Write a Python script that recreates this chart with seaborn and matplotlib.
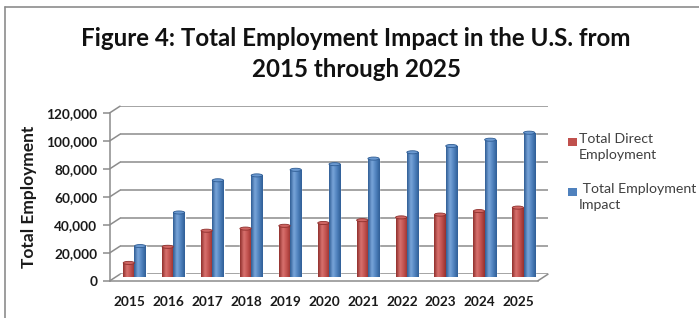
"""Figure 4 - Total Employment Impact in the U.S. (pseudo 3D column chart)"""
import numpy as np
import pandas as pd
import matplotlib
matplotlib.use('Agg')
import matplotlib.pyplot as plt
from matplotlib.lines import Line2D
from matplotlib.patches import Ellipse, Rectangle
from matplotlib.colors import LinearSegmentedColormap
import seaborn as sns

# Data
years = ['2015', '2016', '2017', '2018', '2019', '2020', '2021', '2022', '2023', '2024', '2025']
direct = [11500, 23000, 34500, 36000, 38000, 40000, 42000, 44000, 46000, 48500, 51000]
impact = [23500, 47500, 70500, 74000, 78000, 82000, 86000, 90500, 95000, 99500, 104500]
series_names = ['Total Direct\nEmployment', ' Total Employment\nImpact']
y_ticks = [0, 20000, 40000, 60000, 80000, 100000, 120000]

RED = '#C0504D'
BLUE = '#4F81BD'
GRID = '#8C8C8C'

df = pd.DataFrame({
    'Year': years * 2,
    'Employment': direct + impact,
    'Series': [series_names[0]] * len(years) + [series_names[1]] * len(years),
})

sns.set_style('white')
plt.rcParams['font.family'] = ['Lato', 'DejaVu Sans']

W, H = 699, 318
fig = plt.figure(figsize=(W / 100, H / 100), dpi=100)

# front axis box (pixels)
L, R, B, T = 110, 538, 280.7, 112.7
DX, DY = 10, 6.5  # depth offset of the back wall


def add_ax(dx, dy):
    return fig.add_axes([(L + dx) / W, (H - B + dy) / H, (R - L) / W, (B - T) / H])


ax_back = add_ax(DX, DY)
ax_bar = add_ax(DX / 2, DY / 2)
ax = add_ax(0, 0)

for a in (ax_back, ax_bar, ax):
    a.set_facecolor('none')
    a.set_xlim(-0.5, len(years) - 0.5)
    a.set_ylim(0, 120000)
    for s in a.spines.values():
        s.set_visible(False)

# back wall gridlines
for v in y_ticks:
    ax_back.axhline(v, color=GRID, lw=1.1)
ax_back.set_xticks([])
ax_back.set_yticks([])

# bars
sns.barplot(data=df, x='Year', y='Employment', hue='Series', palette=[RED, BLUE],
            saturation=1, width=0.58, legend=False, ax=ax_bar)
ax_bar.set_xticks([])
ax_bar.set_yticks([])
ax_bar.set_xlabel('')
ax_bar.set_ylabel('')

# cylinder shading
shades = {
    RED: LinearSegmentedColormap.from_list('r', ['#8E2F2C', '#D9726F', '#C0504D', '#96302D']),
    BLUE: LinearSegmentedColormap.from_list('b', ['#2E5C93', '#7AA6DA', '#4F81BD', '#2F5E96']),
}
grad = np.linspace(0, 1, 64).reshape(1, -1)
ell_h = 2200
for patch in list(ax_bar.patches):
    x0, w, h = patch.get_x(), patch.get_width(), patch.get_height()
    if h <= 0:
        continue
    fc = matplotlib.colors.to_hex(patch.get_facecolor())
    cmap = shades[RED] if fc.lower() == RED.lower() else shades[BLUE]
    top = h - ell_h / 2
    patch.set_height(top)
    im = ax_bar.imshow(grad, cmap=cmap, aspect='auto', extent=[x0, x0 + w, 0, top],
                       interpolation='bicubic', zorder=2)
    im.set_clip_path(patch)
    ax_bar.add_patch(Ellipse((x0 + w / 2, top), w, ell_h, facecolor=cmap(0.45),
                             edgecolor=cmap(0.0), lw=0.6, zorder=3))
ax_bar.set_xlim(-0.5, len(years) - 0.5)
ax_bar.set_ylim(0, 120000)

# front axes: left axis line, bottom edge, ticks and labels
for side in ('left', 'bottom'):
    ax.spines[side].set_visible(True)
    ax.spines[side].set_color(GRID)
    ax.spines[side].set_linewidth(1.1)
ax.set_yticks(y_ticks)
ax.set_yticklabels([f'{v:,}' for v in y_ticks], fontsize=9.8, fontweight='bold', color='#1a1a1a')
ax.set_xticks(range(len(years)))
ax.set_xticklabels(years, fontsize=9.8, fontweight='bold', color='#1a1a1a')
ax.set_xticks(np.arange(-0.5, len(years)), minor=True)
ax.tick_params(axis='x', which='major', length=0, pad=11)
ax.tick_params(axis='x', which='minor', length=5, color=GRID, width=1.1, direction='out')
ax.tick_params(axis='y', length=5, color=GRID, width=1.1, direction='out', pad=4, left=True)
ax.set_ylabel('Total Employment', fontsize=12.5, fontweight='bold', color='#1a1a1a', labelpad=7)

# side wall / floor diagonals joining front axis and back wall
fig.canvas.draw()
to_fig = fig.transFigure.inverted()
for v in y_ticks:
    p0 = to_fig.transform(ax.transData.transform((-0.5, v)))
    p1 = to_fig.transform(ax_back.transData.transform((-0.5, v)))
    fig.add_artist(Line2D([p0[0], p1[0]], [p0[1], p1[1]], color=GRID, lw=1.1))
p0 = to_fig.transform(ax.transData.transform((len(years) - 0.5, 0)))
p1 = to_fig.transform(ax_back.transData.transform((len(years) - 0.5, 0)))
fig.add_artist(Line2D([p0[0], p1[0]], [p0[1], p1[1]], color=GRID, lw=1.1))

# legend
for i, (name, col) in enumerate(zip(series_names, [RED, BLUE])):
    ty = 141.8 + i * 50
    fig.add_artist(Rectangle((568 / W, 1 - (ty + 4.5) / H), 9 / W, 8 / H,
                             transform=fig.transFigure, facecolor=col, edgecolor='none'))
    fig.text(579 / W, 1 - (ty - 8.5) / H, name, fontsize=10.2, color='#404040',
             va='top', ha='left', linespacing=1.4)

# title
fig.text(356 / W, 1 - 54 / H, 'Figure 4: Total Employment Impact in the U.S. from\n2015 through 2025',
         ha='center', va='center', fontsize=17.4, fontweight='bold', color='#111111', linespacing=1.4)

# outer frame (left and top edges visible)
fig.add_artist(Line2D([5 / W, 5 / W], [0, 1 - 7 / H], color='#8C8C8C', lw=1.2))
fig.add_artist(Line2D([5 / W, 1], [1 - 7 / H, 1 - 7 / H], color='#8C8C8C', lw=1.2))

plt.savefig('out.png', dpi=100)
